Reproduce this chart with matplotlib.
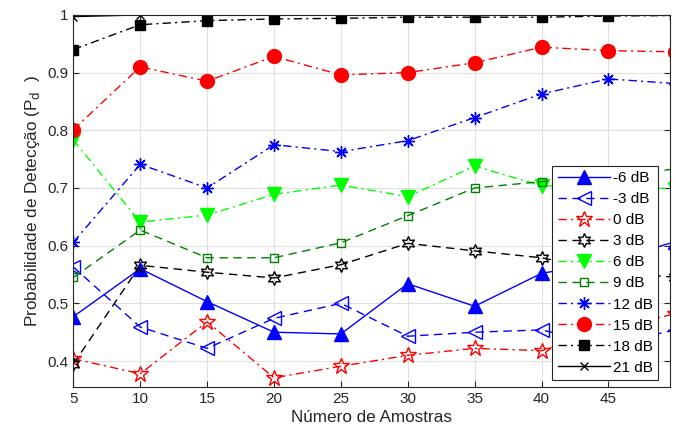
import numpy as np
import matplotlib
matplotlib.use("Agg")
import matplotlib.pyplot as plt

# ─── DATA ──────────────────────────────────────────────────────────────────────
amostras = [5, 10, 15, 20, 25, 30, 35, 40, 45, 50]
snr_labels = ["-6 dB", "-3 dB", "0 dB", "3 dB", "6 dB",
              "9 dB", "12 dB", "15 dB", "18 dB", "21 dB"]

pd_m6 = [0.477, 0.560, 0.503, 0.450, 0.447, 0.534, 0.495, 0.552, 0.572, 0.607]
pd_m3 = [0.563, 0.459, 0.422, 0.474, 0.500, 0.443, 0.450, 0.454, 0.428, 0.454]
pd_0 = [0.404, 0.378, 0.468, 0.371, 0.391, 0.410, 0.422, 0.418, 0.455, 0.482]
pd_3 = [0.395, 0.566, 0.554, 0.544, 0.567, 0.604, 0.591, 0.579, 0.556, 0.545]
pd_6 = [0.783, 0.641, 0.653, 0.689, 0.705, 0.685, 0.738, 0.704, 0.701, 0.699]
pd_9 = [0.545, 0.627, 0.579, 0.579, 0.605, 0.652, 0.700, 0.711, 0.720, 0.733]
pd_12 = [0.606, 0.741, 0.700, 0.775, 0.763, 0.782, 0.822, 0.863, 0.889, 0.881]
pd_15 = [0.801, 0.910, 0.885, 0.928, 0.896, 0.900, 0.917, 0.944, 0.938, 0.936]
pd_18 = [0.940, 0.983, 0.990, 0.993, 0.994, 0.996, 0.996, 0.996, 0.998, 0.999]
pd_21 = [0.997, 1.000, 1.000, 1.000, 1.000, 1.000, 1.000, 1.000, 1.000, 1.000]

series = [pd_m6, pd_m3, pd_0, pd_3, pd_6, pd_9, pd_12, pd_15, pd_18, pd_21]

# ─── STYLES (color, linestyle, marker, size, filled) ───────────────────────────
LIME = (0.0, 1.0, 0.0)
DKGREEN = (0.0, 0.5, 0.0)
DASH = (0, (6, 4))
DASHDOT = (0, (6, 3, 1.5, 3))
styles = [
    ("blue", "-", "^", 10, True),
    ("blue", DASH, "<", 10, False),
    ("red", DASHDOT, "*", 12, False),
    ("black", DASH, (6, 1, 0), 10, False),
    (LIME, DASHDOT, "v", 10, True),
    (DKGREEN, DASH, "s", 6, False),
    ("blue", DASHDOT, (8, 2, 0), 9, False),
    ("red", DASHDOT, "o", 10, True),
    ("black", DASHDOT, "s", 7.5, True),
    ("black", "-", "x", 6, True),
]

plt.rcParams["font.family"] = ["Liberation Sans", "DejaVu Sans"]
TXT = (0.15, 0.15, 0.15)

fig = plt.figure(figsize=(6.76, 4.38), dpi=100)
ax = fig.add_axes([0.1085, 0.1164, 0.8825, 0.8496])

for vals, lab, (col, ls, mk, ms, filled) in zip(series, snr_labels, styles):
    ax.plot(amostras, vals, color=col, linestyle=ls, linewidth=1.0,
            marker=mk, markersize=ms, markeredgewidth=1.0,
            markerfacecolor=col if filled else "none",
            markeredgecolor=col, label=lab)

ax.set_xlim(5, 49.6)
ax.set_ylim(0.355, 1.0)
ax.set_xticks([5, 10, 15, 20, 25, 30, 35, 40, 45])
ax.set_yticks([0.4, 0.5, 0.6, 0.7, 0.8, 0.9, 1.0])
ax.set_yticklabels(["0.4", "0.5", "0.6", "0.7", "0.8", "0.9", "1"])

ax.grid(True, color=(0.88, 0.88, 0.88), linewidth=0.8)
ax.set_axisbelow(True)
ax.tick_params(direction="in", top=True, right=True, labelsize=11,
               colors=TXT, length=4)
for sp in ax.spines.values():
    sp.set_color(TXT)
    sp.set_linewidth(0.8)

ax.set_xlabel("Número de Amostras", fontsize=12.3, color=TXT, labelpad=3)
ax.set_ylabel("Probabilidade de Detecção (P$_{\\mathrm{d}}$  )", fontsize=12.3,
              color=TXT, labelpad=4)

leg = ax.legend(loc="lower right", bbox_to_anchor=(0.98, 0.019),
                borderaxespad=0, fontsize=11, handlelength=3.4,
                labelspacing=0.46, handletextpad=0.2, borderpad=0.35,
                fancybox=False, framealpha=1, edgecolor=TXT)
leg.get_frame().set_linewidth(0.8)
for t in leg.get_texts():
    t.set_color("black")

fig.savefig("out.png", dpi=100)
